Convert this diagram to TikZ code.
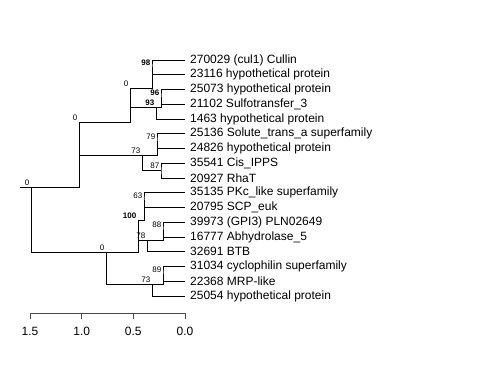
\documentclass[tikz,border=0pt]{standalone}
\usepackage{fontspec}
\setmainfont{Liberation Sans}
\usetikzlibrary{calc}

\begin{document}
\begin{tikzpicture}[x=1pt,y=-1pt,
  branch/.style={black,line width=0.8pt},
  leaf/.style={anchor=west,inner sep=0pt,xshift=5pt,font=\fontsize{12}{14}\selectfont},
  boot/.style={anchor=south east,inner sep=0.5pt,xshift=-1pt,yshift=1pt,font=\fontsize{8}{9}\selectfont},
  bootbold/.style={boot,font=\fontsize{8}{9}\selectfont\bfseries},
  tick/.style={anchor=north,inner sep=0pt,font=\fontsize{12}{14}\selectfont}]
\useasboundingbox (0,0) rectangle (480,384);

% leaves
\foreach \txt [count=\i] in {270029 (cul1) Cullin, 23116 hypothetical protein,
  25073 hypothetical protein, 21102 Sulfotransfer\_3, 1463 hypothetical protein,
  25136 Solute\_trans\_a superfamily, 24826 hypothetical protein, 35541 Cis\_IPPS,
  20927 RhaT, 35135 PKc\_like superfamily, 20795 SCP\_euk, 39973 (GPI3) PLN02649,
  16777 Abhydrolase\_5, 32691 BTB, 31034 cyclophilin superfamily, 22368 MRP-like,
  25054 hypothetical protein}
{
  \coordinate (t\i) at (185,{60+14.75*(\i-1)});
  \node[leaf] (lab\i) at (t\i) {\txt};
}

% inner nodes
\coordinate (root) at (31,187);
\coordinate (ca) at (79,122);
\coordinate (cb) at (130,88);
\coordinate (cc) at (152,67.4);
\coordinate (cd) at (156,107.6);
\coordinate (ce) at (161,96.9);
\coordinate (cf) at (142,155.7);
\coordinate (cg) at (157,141.1);
\coordinate (ch) at (161,170.6);
\coordinate (ck) at (106,252.3);
\coordinate (cl) at (138,219.9);
\coordinate (cm) at (144,200.1);
\coordinate (cn) at (147,240.7);
\coordinate (co) at (163,229.6);
\coordinate (cp) at (152,284.6);
\coordinate (cq) at (163,273.9);

% branches
\draw[branch] (20,187) -- (root);
\draw[branch] (ca) |- (root) |- (ck);
\draw[branch] (cb) |- (ca) |- (cf);
\draw[branch] (cc) |- (cb) |- (cd);
\draw[branch] (t1) -| (cc) |- (t2);
\draw[branch] (ce) |- (cd) |- (t5);
\draw[branch] (t3) -| (ce) |- (t4);
\draw[branch] (cg) |- (cf) |- (ch);
\draw[branch] (t6) -| (cg) |- (t7);
\draw[branch] (t8) -| (ch) |- (t9);
\draw[branch] (cl) |- (ck) |- (cp);
\draw[branch] (cm) |- (cl) |- (cn);
\draw[branch] (t10) -| (cm) |- (t11);
\draw[branch] (co) |- (cn) |- (t14);
\draw[branch] (t12) -| (co) |- (t13);
\draw[branch] (cq) |- (cp) |- (t17);
\draw[branch] (t15) -| (cq) |- (t16);

% support values
\node[boot] (broot) at (root) {0};
\node[boot] (ba) at (ca) {0};
\node[boot] (bb) at (cb) {0};
\node[bootbold] (bc) at (cc) {98};
\node[bootbold] (bd) at (cd) {93};
\node[bootbold] (be) at (ce) {96};
\node[boot] (bf) at (cf) {73};
\node[boot] (bg) at (cg) {79};
\node[boot] (bh) at (ch) {87};
\node[boot] (bk) at (ck) {0};
\node[bootbold] (bl) at (cl) {100};
\node[boot] (bm) at (cm) {63};
\node[boot] (bn) at (cn) {78};
\node[boot] (bo) at (co) {88};
\node[boot] (bp) at (cp) {73};
\node[boot] (bq) at (cq) {89};

% scale
\draw[black!70,line width=0.8pt] (30,313) -- (185,313);
\foreach \v/\x in {1.5/30,1.0/81.7,0.5/133.3,0.0/185}
{
  \draw[black!70,line width=0.8pt] (\x,313) -- (\x,319);
  \node[tick] (ax\x) at (\x,327) {\v};
}
\end{tikzpicture}
\end{document}
